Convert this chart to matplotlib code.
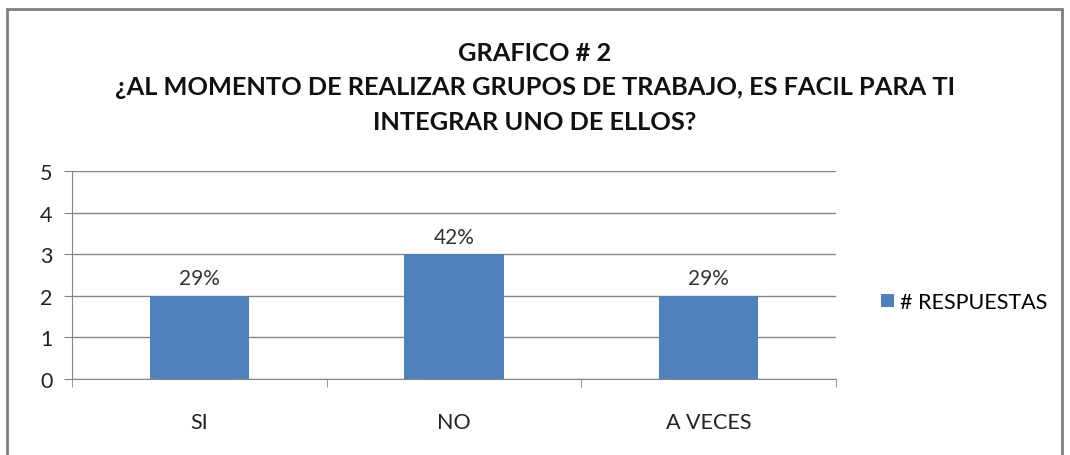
import numpy as np
import matplotlib.pyplot as plt
from matplotlib.patches import Rectangle

# datos del grafico
categorias = ['SI', 'NO', 'A VECES']
respuestas = [2, 3, 2]
porcentajes = ['29%', '42%', '29%']
serie = '# RESPUESTAS'
titulo = 'GRAFICO # 2\n¿AL MOMENTO DE REALIZAR GRUPOS DE TRABAJO, ES FACIL PARA TI\nINTEGRAR UNO DE ELLOS?'

plt.rcParams['font.family'] = ['Lato', 'DejaVu Sans']
azul = '#4F81BD'
gris = '#868686'

fig = plt.figure(figsize=(10.7, 4.56), dpi=100)
ax = fig.add_axes([72/1070, 1 - 380/456, (836 - 72)/1070, (380 - 172)/456])

x = np.arange(len(categorias))
barras = ax.bar(x, respuestas, width=0.39, color=azul, label=serie, zorder=3)
for xi, v, p in zip(x, respuestas, porcentajes):
    ax.text(xi, v + 0.18, p, ha='center', va='bottom', fontsize=15, color='#333333')

ax.set_xlim(-0.5, 2.5)
ax.set_ylim(0, 5)
ax.set_yticks(range(6))
ax.set_xticks(x)
ax.set_xticklabels(categorias)
ax.set_xticks([-0.5, 0.5, 1.5, 2.5], minor=True)
ax.tick_params(axis='x', which='major', length=0, pad=24, labelsize=15.5, labelcolor='#222222')
ax.tick_params(axis='x', which='minor', length=6, color=gris)
ax.tick_params(axis='y', length=6, color=gris, labelsize=15.5, labelcolor='#222222', pad=8)
ax.grid(axis='y', color=gris, linewidth=1, zorder=0)
for s in ['top', 'right']:
    ax.spines[s].set_visible(False)
ax.spines['left'].set_color(gris)
ax.spines['bottom'].set_color(gris)

fig.text(0.5, 1 - 88/456, titulo, ha='center', va='center', fontsize=18.3,
         fontweight='bold', linespacing=1.62, color='#111111')

fig.legend(handles=[barras], labels=[serie], loc='center left',
           bbox_to_anchor=(872/1070, 1 - 303/456), frameon=False, fontsize=15.5,
           handlelength=0.6, handleheight=0.6, handletextpad=0.3, borderaxespad=0)

# marco exterior
fig.add_artist(Rectangle((7/1070, -0.05), (1062 - 7)/1070, 1.05 - 10/456,
                         transform=fig.transFigure, fill=False, edgecolor='#7f7f7f',
                         linewidth=2))

fig.savefig('out.png', dpi=100)
